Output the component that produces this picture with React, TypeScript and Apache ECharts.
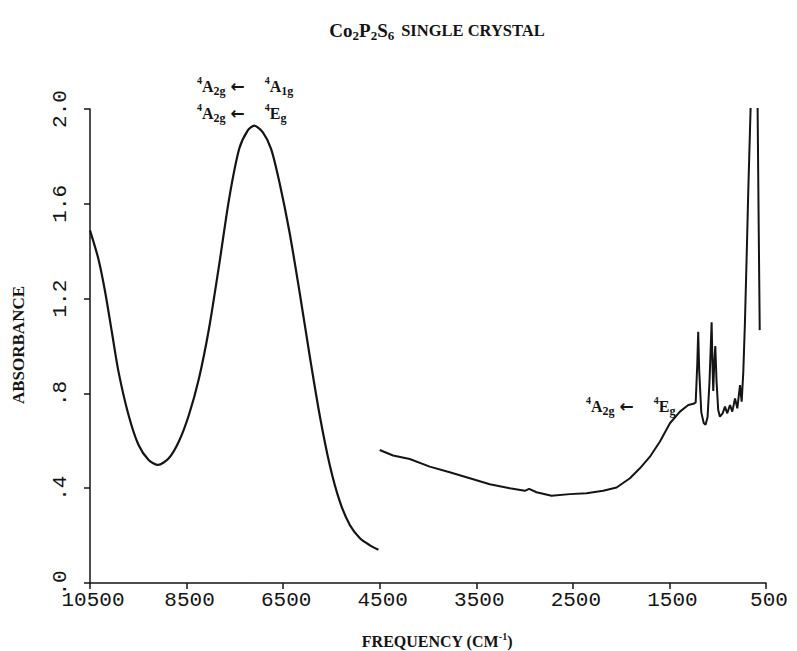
import React, { useEffect, useRef } from "react";
import * as echarts from "echarts";

// ---- data ----
const xTickLabels = ["10500", "8500", "6500", "4500", "3500", "2500", "1500", "500"];
const yTickLabels = [".0", ".4", ".8", "1.2", "1.6", "2.0"];

const leftFreq = [10500, 10327, 10187, 10048, 9910, 9702, 9494, 9285, 9090, 8869, 8660, 8452, 8244, 8035, 7827, 7619, 7410, 7235, 7098, 6923, 6750, 6577, 6369, 6160, 5952, 5744, 5535, 5327, 5119, 4910, 4702, 4527];
const leftAbs = [1.488, 1.368, 1.229, 1.06, 0.892, 0.709, 0.582, 0.519, 0.498, 0.526, 0.597, 0.709, 0.863, 1.074, 1.34, 1.621, 1.832, 1.909, 1.93, 1.902, 1.832, 1.691, 1.481, 1.228, 0.961, 0.709, 0.498, 0.344, 0.245, 0.189, 0.159, 0.14];

const rightFreq = [4500, 4362, 4189, 3982, 3775, 3567, 3360, 3153, 2997, 2953, 2876, 2721, 2531, 2358, 2186, 2047, 1909, 1806, 1702, 1598, 1495, 1391, 1305, 1251, 1228, 1212, 1202, 1192, 1170, 1145, 1126, 1105, 1085, 1063, 1054, 1046, 1036, 1025, 1012, 995, 977, 949, 925, 901, 873, 849, 821, 797, 769, 752, 735, 718, 700, 683, 659, 640, 600, 588, 575, 565];
const rightAbs = [0.561, 0.538, 0.523, 0.491, 0.467, 0.442, 0.417, 0.4, 0.389, 0.397, 0.383, 0.368, 0.375, 0.379, 0.389, 0.403, 0.442, 0.484, 0.533, 0.597, 0.674, 0.723, 0.751, 0.756, 0.762, 0.92, 1.06, 0.9, 0.72, 0.675, 0.668, 0.7, 0.85, 1.1, 0.92, 0.81, 0.93, 1.0, 0.85, 0.73, 0.702, 0.716, 0.744, 0.716, 0.751, 0.723, 0.779, 0.737, 0.835, 0.765, 0.891, 1.1, 1.382, 1.663, 2.01, 2.4, 2.4, 2.05, 1.48, 1.067];

// broken frequency axis: 2000 cm-1 per division above 4500, 1000 below
const toU = (f: number) => (f >= 4500 ? (10500 - f) / 2000 : 3 + (4500 - f) / 1000);

const SERIF = '"Liberation Serif", "Times New Roman", serif';
const MONO = '"Liberation Mono", "DejaVu Sans Mono", monospace';
const INK = "#141414";

const annRich = {
  m: { fontFamily: SERIF, fontWeight: "bold", fontSize: 16, lineHeight: 22, fill: INK },
  sup: { fontFamily: SERIF, fontWeight: "bold", fontSize: 10, lineHeight: 13, verticalAlign: "top", fill: INK },
  sub: { fontFamily: SERIF, fontWeight: "bold", fontSize: 12, lineHeight: 13, verticalAlign: "bottom", fill: INK },
  ar: { fontFamily: '"DejaVu Sans", sans-serif', fontWeight: "bold", fontSize: 17, lineHeight: 22, padding: [0, 20, 0, 5], fill: INK },
};

export default function App() {
  const ref = useRef<HTMLDivElement>(null);

  useEffect(() => {
    if (!ref.current) return;
    const chart = echarts.init(ref.current, null, { renderer: "svg" });
    const leftData = leftFreq.map((f, i) => [toU(f), leftAbs[i]]);
    const rightData = rightFreq.map((f, i) => [toU(f), rightAbs[i]]);

    chart.setOption({
      animation: false,
      backgroundColor: "#ffffff",
      grid: { left: 90, right: 31, top: 109, bottom: 68, containLabel: false, outerBoundsMode: "none" },
      xAxis: {
        type: "value",
        min: 0,
        max: 7,
        interval: 1,
        axisLine: { show: true, lineStyle: { color: INK, width: 1.5 } },
        axisTick: { show: true, length: 6, lineStyle: { color: INK, width: 1.5 } },
        splitLine: { show: false },
        axisLabel: {
          margin: 7,
          fontFamily: MONO,
          fontSize: 21,
          color: INK,
          padding: [0, 0, 0, 6],
          formatter: (v: number) => xTickLabels[Math.round(v)] ?? "",
        },
      },
      yAxis: {
        type: "value",
        min: 0,
        max: 2,
        interval: 0.4,
        axisLine: { show: true, lineStyle: { color: INK, width: 1.5 } },
        axisTick: { show: true, length: 6, lineStyle: { color: INK, width: 1.5 } },
        splitLine: { show: false },
        axisLabel: {
          rotate: 90,
          margin: 30,
          align: "center",
          verticalAlign: "middle",
          fontFamily: MONO,
          fontSize: 21,
          color: INK,
          formatter: (v: number) => yTickLabels[Math.round(v / 0.4)] ?? "",
        },
      },
      series: [
        {
          type: "line",
          data: leftData,
          showSymbol: false,
          smooth: 0.25,
          clip: true,
          lineStyle: { color: INK, width: 2.2 },
        },
        {
          type: "line",
          data: rightData,
          showSymbol: false,
          clip: true,
          lineStyle: { color: INK, width: 2 },
        },
      ],
      graphic: [
        {
          type: "text",
          x: 437,
          y: 30,
          style: {
            text: "{m|Co}{s|2}{m|P}{s|2}{m|S}{s|6}{t|SINGLE CRYSTAL}",
            align: "center",
            verticalAlign: "middle",
            rich: {
              m: { fontFamily: SERIF, fontWeight: "bold", fontSize: 19, lineHeight: 24, fill: INK },
              s: { fontFamily: SERIF, fontWeight: "bold", fontSize: 13, lineHeight: 13, verticalAlign: "bottom", fill: INK },
              t: { fontFamily: SERIF, fontWeight: "bold", fontSize: 16.5, lineHeight: 24, padding: [0, 0, 0, 7], fill: INK },
            },
          },
        },
        {
          type: "text",
          x: 18,
          y: 345,
          rotation: Math.PI / 2,
          style: {
            text: "ABSORBANCE",
            align: "center",
            verticalAlign: "middle",
            fontFamily: SERIF,
            fontWeight: "bold",
            fontSize: 17,
            fill: INK,
          },
        },
        {
          type: "text",
          x: 437,
          y: 641,
          style: {
            text: "{m|FREQUENCY (CM}{sup|-1}{m|)}",
            align: "center",
            verticalAlign: "middle",
            rich: {
              m: { fontFamily: SERIF, fontWeight: "bold", fontSize: 16, lineHeight: 20, fill: INK },
              sup: { fontFamily: SERIF, fontWeight: "bold", fontSize: 10, lineHeight: 12, verticalAlign: "top", fill: INK },
            },
          },
        },
        {
          type: "text",
          x: 197,
          y: 86,
          style: {
            text: "{sup|4}{m|A}{sub|2g}{ar|←}{sup|4}{m|A}{sub|1g}",
            align: "left",
            verticalAlign: "middle",
            rich: annRich,
          },
        },
        {
          type: "text",
          x: 197,
          y: 113,
          style: {
            text: "{sup|4}{m|A}{sub|2g}{ar|←}{sup|4}{m|E}{sub|g}",
            align: "left",
            verticalAlign: "middle",
            rich: annRich,
          },
        },
        {
          type: "text",
          x: 586,
          y: 406,
          style: {
            text: "{sup|4}{m|A}{sub|2g}{ar|←}{sup|4}{m|E}{sub|g}",
            align: "left",
            verticalAlign: "middle",
            rich: annRich,
          },
        },
      ],
    });
    return () => chart.dispose();
  }, []);

  return (
    <div
      ref={ref}
      style={{ position: "absolute", left: 0, top: 0, width: 797, height: 651, background: "#fff" }}
    />
  );
}
